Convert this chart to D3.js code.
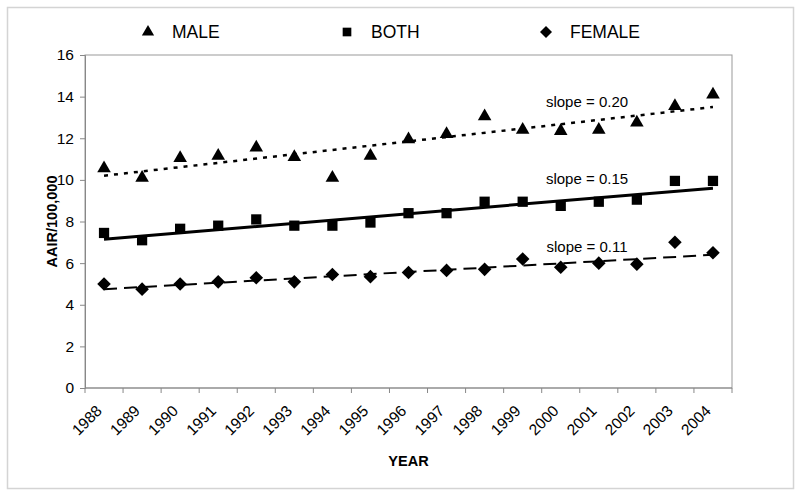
<!DOCTYPE html>
<html>
<head>
<meta charset="utf-8">
<script src="https://cdn.jsdelivr.net/npm/d3@7"></script>
<style>
  body { margin: 0; background: #fff; }
  text { font-family: "Liberation Sans", Arial, sans-serif; }
</style>
</head>
<body>
<div id="chart"></div>
<script>
////////////////////////////  Data  ////////////////////////////
const years = ["1988", "1989", "1990", "1991", "1992", "1993", "1994", "1995", "1996",
  "1997", "1998", "1999", "2000", "2001", "2002", "2003", "2004"];
const male = [10.55, 10.1, 11.05, 11.15, 11.55, 11.1, 10.1, 11.15, 11.95, 12.2, 13.05, 12.4, 12.35, 12.4, 12.75, 13.55, 14.1];
const both = [7.45, 7.1, 7.65, 7.8, 8.1, 7.8, 7.8, 7.95, 8.4, 8.4, 8.95, 8.95, 8.75, 8.95, 9.05, 9.95, 9.95];
const female = [5.0, 4.75, 5.0, 5.1, 5.3, 5.1, 5.45, 5.35, 5.55, 5.65, 5.7, 6.2, 5.8, 6.0, 5.95, 7.0, 6.5];
// trend line values at first and last year
const maleTrend = [10.2, 13.5];
const bothTrend = [7.15, 9.6];
const femaleTrend = [4.75, 6.4];
const slopeLabels = ["slope = 0.20", "slope = 0.15", "slope = 0.11"];
const yTicks = [0, 2, 4, 6, 8, 10, 12, 14, 16];
const legendNames = ["MALE", "BOTH", "FEMALE"];

////////////////////////////  Init  ////////////////////////////
const width = 800, height = 495;
const margin = { top: 55, right: 68, bottom: 107, left: 85 };

const svg = d3.select("#chart").append("svg")
  .attr("width", width).attr("height", height);

// outer frame
svg.append("rect")
  .attr("x", 7.5).attr("y", 7.5)
  .attr("width", 786).attr("height", 481)
  .attr("fill", "none").attr("stroke", "#d4d4d4").attr("stroke-width", 1.5);

const x = d3.scaleBand().domain(years).range([margin.left, width - margin.right]);
const y = d3.scaleLinear().domain([0, 16]).range([height - margin.bottom, margin.top]);
const cx = (d) => x(d) + x.bandwidth() / 2;

// plot area border
svg.append("rect")
  .attr("x", margin.left).attr("y", margin.top)
  .attr("width", width - margin.left - margin.right)
  .attr("height", height - margin.top - margin.bottom)
  .attr("fill", "none").attr("stroke", "#999").attr("stroke-width", 1);

// y axis
const yAxis = svg.append("g")
  .attr("transform", `translate(${margin.left},0)`)
  .call(d3.axisLeft(y).tickValues(yTicks).tickSize(5).tickPadding(6));
yAxis.select(".domain").attr("stroke", "#888");
yAxis.selectAll(".tick line").attr("stroke", "#888");
yAxis.selectAll(".tick text").attr("font-size", 15.5).attr("fill", "#000")
  .style("font-family", "Liberation Sans, Arial, sans-serif");

// x axis (ticks at band boundaries)
const xAxisG = svg.append("g")
  .attr("transform", `translate(0,${height - margin.bottom})`);
xAxisG.append("line")
  .attr("x1", margin.left).attr("x2", width - margin.right)
  .attr("stroke", "#888");
xAxisG.selectAll(".xtick")
  .data(years.concat(["end"]))
  .enter().append("line")
  .attr("x1", (d, i) => margin.left + i * x.bandwidth())
  .attr("x2", (d, i) => margin.left + i * x.bandwidth())
  .attr("y1", 0).attr("y2", 5)
  .attr("stroke", "#888");
xAxisG.selectAll(".xlabel")
  .data(years)
  .enter().append("text")
  .attr("transform", (d) => `translate(${cx(d) - 5},${20}) rotate(-45)`)
  .attr("text-anchor", "end")
  .attr("dy", "0.35em")
  .attr("font-size", 15.5)
  .text((d) => d);

// axis titles
svg.append("text")
  .attr("x", (margin.left + width - margin.right) / 2)
  .attr("y", 466)
  .attr("text-anchor", "middle")
  .attr("font-size", 14.5).attr("font-weight", "bold")
  .text("YEAR");
svg.append("text")
  .attr("transform", `translate(57,${y(8)}) rotate(-90)`)
  .attr("text-anchor", "middle")
  .attr("font-size", 14.5).attr("font-weight", "bold")
  .text("AAIR/100,000");

// symbols
const diamond = (r) => `M0,${-r}L${r},0L0,${r}L${-r},0Z`;
const symTri = d3.symbol().type(d3.symbolTriangle).size(80);
const symSq = d3.symbol().type(d3.symbolSquare).size(105);
const symDia = () => diamond(6.8);

const series = [
  { values: male, trend: maleTrend, sym: symTri, dash: "4,6", sw: 2.5, label: slopeLabels[0] },
  { values: both, trend: bothTrend, sym: symSq, dash: null, sw: 3, label: slopeLabels[1] },
  { values: female, trend: femaleTrend, sym: symDia, dash: "13,7", sw: 2, label: slopeLabels[2] },
];
const labelAt = [13.5, 9.8, 6.55];

series.forEach((s, k) => {
  // trend line
  const tl = svg.append("line")
    .attr("x1", cx(years[0])).attr("y1", y(s.trend[0]))
    .attr("x2", cx(years[years.length - 1])).attr("y2", y(s.trend[1]))
    .attr("stroke", "#000").attr("stroke-width", s.sw);
  if (s.dash) tl.attr("stroke-dasharray", s.dash);

  // markers
  svg.selectAll(".m" + k)
    .data(s.values)
    .enter().append("path")
    .attr("d", s.sym)
    .attr("transform", (d, i) => `translate(${cx(years[i])},${y(d)})`)
    .attr("fill", "#000");

  // slope label
  svg.append("text")
    .attr("x", 587).attr("y", y(labelAt[k]))
    .attr("text-anchor", "middle")
    .attr("font-size", 15)
    .text(s.label);
});

// legend
const legendX = [148, 347, 546];
const legendSyms = [
  d3.symbol().type(d3.symbolTriangle).size(65)(),
  d3.symbol().type(d3.symbolSquare).size(75)(),
  diamond(6),
];
legendNames.forEach((n, i) => {
  svg.append("path")
    .attr("d", legendSyms[i])
    .attr("transform", `translate(${legendX[i]},32)`)
    .attr("fill", "#000");
  svg.append("text")
    .attr("x", legendX[i] + 24).attr("y", 32)
    .attr("dy", "0.36em")
    .attr("font-size", 17.5)
    .text(n);
});
</script>
</body>
</html>
